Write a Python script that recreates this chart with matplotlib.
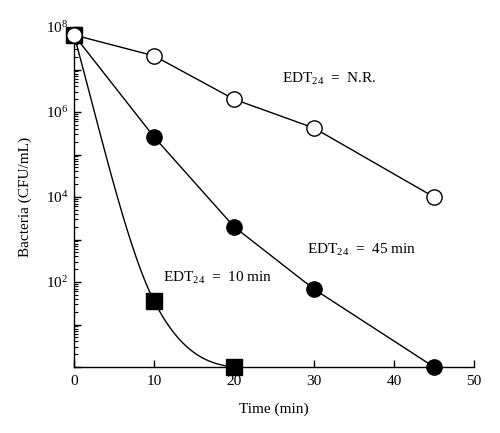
import numpy as np
import matplotlib
matplotlib.use("Agg")
import matplotlib.pyplot as plt
from matplotlib.ticker import FixedLocator, FuncFormatter, LogLocator

plt.rcParams['font.family'] = ['Liberation Serif', 'DejaVu Serif']
plt.rcParams['mathtext.fontset'] = 'custom'
plt.rcParams['mathtext.rm'] = 'Liberation Serif'
plt.rcParams['mathtext.it'] = 'Liberation Serif:italic'

# time points (min) and counts (CFU/mL)
time_nr = [0, 10, 20, 30, 45]
cfu_nr = [6.5e7, 2.1e7, 2.0e6, 4.2e5, 1.0e4]

time_45 = [0, 10, 20, 30, 45]
cfu_45 = [6.5e7, 2.6e5, 2.0e3, 68, 1.0]

time_10 = [0, 10, 20]
cfu_10 = [6.5e7, 36, 1.0]
# slopes (decades/min) of the drawn curve through the 10 min series
slope_10 = [-0.69, -0.37, -0.02]

labels = ['EDT$_{24}$  =  N.R.', 'EDT$_{24}$  =  45 min', 'EDT$_{24}$  =  10 min']


def hermite_curve(xs, ys, slopes, n=60):
    # smooth drawing line in log space through the given points
    ly = np.log10(ys)
    cx, cy = [], []
    for i in range(len(xs) - 1):
        h = xs[i + 1] - xs[i]
        t = np.linspace(0, 1, n)
        h00 = 2 * t**3 - 3 * t**2 + 1
        h10 = t**3 - 2 * t**2 + t
        h01 = -2 * t**3 + 3 * t**2
        h11 = t**3 - t**2
        cx.extend(xs[i] + t * h)
        cy.extend(h00 * ly[i] + h10 * h * slopes[i] + h01 * ly[i + 1] + h11 * h * slopes[i + 1])
    return np.array(cx), 10 ** np.array(cy)


fig = plt.figure(figsize=(5.0, 4.33), dpi=100)
ax = fig.add_axes([0.148, 0.1524, 0.80, 0.7852])

cx, cy = hermite_curve(time_10, cfu_10, slope_10)
ax.plot(cx, cy, color='k', lw=1.0, zorder=2)
ax.plot(time_10, cfu_10, 's', color='k', ms=11, zorder=3, clip_on=False)

ax.plot(time_45, cfu_45, '-', color='k', lw=1.0, zorder=2)
ax.plot(time_45, cfu_45, 'o', color='k', ms=11, zorder=4, clip_on=False)

ax.plot(time_nr, cfu_nr, '-', color='k', lw=1.0, zorder=2)
ax.plot(time_nr, cfu_nr, 'o', mfc='white', mec='k', mew=1.0, ms=11, zorder=5, clip_on=False)

ax.set_yscale('log')
ax.set_xlim(0, 50)
ax.set_ylim(1, 1e8)

ax.spines['top'].set_visible(False)
ax.spines['right'].set_visible(False)
ax.spines['left'].set_linewidth(1.0)
ax.spines['bottom'].set_linewidth(1.0)

ax.set_xticks([0, 10, 20, 30, 40, 50])
ax.yaxis.set_major_locator(FixedLocator([10.0**k for k in range(0, 9)]))
ax.yaxis.set_minor_locator(LogLocator(base=10, subs=np.arange(2, 10), numticks=20))


def ylab(v, pos):
    k = int(round(np.log10(v)))
    if k == 0 or k % 2:
        return ''
    return '10$^{%d}$' % k


ax.yaxis.set_major_formatter(FuncFormatter(ylab))
ax.tick_params(axis='both', which='major', direction='in', length=5, width=1.0,
               labelsize=11, colors='k')
ax.tick_params(axis='y', which='minor', direction='in', length=3, width=0.8)
ax.tick_params(axis='x', which='major', pad=6)
ax.tick_params(axis='y', which='major', pad=4)

ax.set_xlabel('Time (min)', fontsize=11, labelpad=10)
ax.set_ylabel('Bacteria (CFU/mL)', fontsize=11, labelpad=10)

ax.text(26.0, 6.0e6, labels[0], fontsize=11, va='center', ha='left')
ax.text(29.1, 5.6e2, labels[1], fontsize=11, va='center', ha='left')
ax.text(11.1, 1.25e2, labels[2], fontsize=11, va='center', ha='left')

fig.savefig('out.png', dpi=100)
